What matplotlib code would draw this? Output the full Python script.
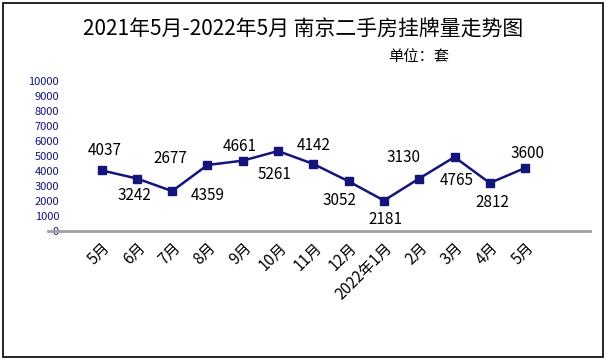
import matplotlib
matplotlib.use("Agg")
import matplotlib.pyplot as plt
from matplotlib.patches import Rectangle

plt.rcParams['font.family'] = ['Noto Sans CJK SC', 'DejaVu Sans']

# data (point heights) and the typed labels
months = ['5月', '6月', '7月', '8月', '9月', '10月', '11月', '12月',
          '2022年1月', '2月', '3月', '4月', '5月']
values = [4040, 3500, 2660, 4400, 4690, 5330, 4470, 3310, 2030, 3500, 4930, 3200, 4200]
labels = ['4037', '3242', '2677', '4359', '4661', '5261', '4142', '3052',
          '2181', '3130', '4765', '2812', '3600']

navy = '#14147a'

fig = plt.figure(figsize=(6.07, 3.64), dpi=100)
fig.patches.append(Rectangle((3/607, 7/364), 600/607, 354/364, transform=fig.transFigure,
                             fill=False, edgecolor='black', linewidth=1.2))

ax = fig.add_axes([48/607, 133/364, 542/607, 150/364])
x = list(range(len(months)))
ax.plot(x, values, color=navy, linewidth=1.8, marker='s', markersize=6,
        markerfacecolor=navy, markeredgecolor=navy)

# label offsets from each point, in pixels (labels were placed by hand)
offsets = [(3, 20), (-3, -17), (-2, 33), (0, -30), (-3, 14), (-4, -23), (0, 18),
           (-9, -19), (2, -19), (-16, 21), (2, -23), (3, -19), (2, 15)]
for xi, v, lab, (dx, dy) in zip(x, values, labels, offsets):
    ax.annotate(lab, (xi, v), xytext=(dx * 0.72, dy * 0.72), textcoords='offset points',
                ha='center', va='center', fontsize=11)

ax.set_xlim(-1.52, 13.84)
ax.set_ylim(0, 10000)
ax.set_yticks(range(0, 10001, 1000))
ax.tick_params(axis='y', length=0, pad=-8, labelsize=8, labelcolor=navy)
ax.set_xticks(x)
ax.set_xticklabels(months, rotation=45, ha='right', rotation_mode='anchor', fontsize=11)
ax.tick_params(axis='x', length=0, pad=6)
for s in ['top', 'right', 'left']:
    ax.spines[s].set_visible(False)
ax.spines['bottom'].set_color('#a0a0a0')
ax.spines['bottom'].set_linewidth(2)
ax.patch.set_alpha(0)

fig.text(303/607, 1 - 30/364, '2021年5月-2022年5月 南京二手房挂牌量走势图',
         ha='center', va='center', fontsize=15)
fig.text(388/607, 1 - 57/364, '单位：套', ha='left', va='center', fontsize=11)

fig.savefig('out.png', dpi=100)
